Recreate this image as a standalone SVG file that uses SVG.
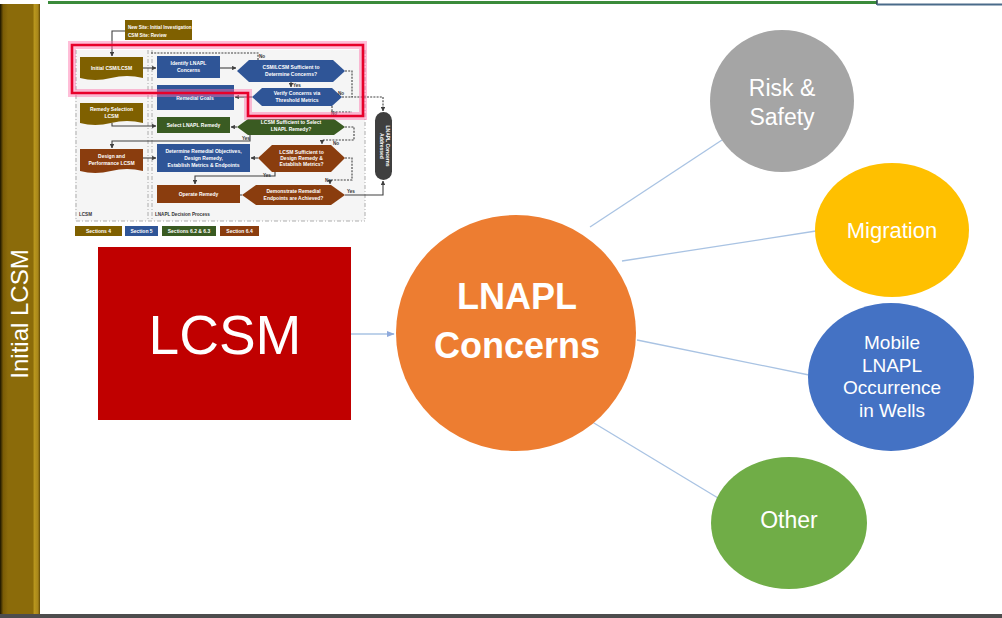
<svg xmlns="http://www.w3.org/2000/svg" width="1002" height="618" viewBox="0 0 1002 618">
<style>
.ft{font-family:"Liberation Sans",Arial,sans-serif;font-weight:bold;fill:#fff;text-anchor:middle;font-size:5px}
.ftl{font-family:"Liberation Sans",Arial,sans-serif;font-weight:bold;fill:#fff;font-size:4.6px}
.lbl{font-family:"Liberation Sans",Arial,sans-serif;font-weight:bold;fill:#333;font-size:4.6px}
.big{font-family:"Liberation Sans",Arial,sans-serif;fill:#fff;text-anchor:middle}
.gold{fill:#7f6000}.blue{fill:#2f5597}.green{fill:#3a5b22}.brown{fill:#8a3d0e}
.fl{fill:none;stroke:#404040;stroke-width:1.1}
.fd{fill:none;stroke:#404040;stroke-width:1.1;stroke-dasharray:2 1.2}
.lane{fill:none;stroke:#9a9a9a;stroke-width:0.8;stroke-dasharray:4 2 1 2}
.conn{fill:none;stroke:#a9c3e3;stroke-width:1.3}
</style>
<defs>
<linearGradient id="bar" x1="0" y1="0" x2="1" y2="0">
<stop offset="0" stop-color="#1a1400"/>
<stop offset="0.08" stop-color="#7a5c06"/>
<stop offset="0.2" stop-color="#8b6b0a"/>
<stop offset="0.82" stop-color="#8b6b0a"/>
<stop offset="0.86" stop-color="#b8961e"/>
<stop offset="0.95" stop-color="#a8861a"/>
<stop offset="1" stop-color="#5e4605"/>
</linearGradient>
<marker id="ah" viewBox="0 0 10 10" refX="9" refY="5" markerWidth="4" markerHeight="4" orient="auto"><path d="M0,0 L10,5 L0,10 z" fill="#404040"/></marker>
<marker id="ab" viewBox="0 0 10 10" refX="9" refY="5" markerWidth="6" markerHeight="6" orient="auto"><path d="M0,1 L10,5 L0,9 z" fill="#8faadc"/></marker>
</defs>
<rect width="1002" height="618" fill="#fff"/>
<!-- frame -->
<g id="frame">
<rect x="0" y="4" width="40" height="611" fill="url(#bar)"/>
<line x1="48" y1="2.5" x2="877" y2="2.5" stroke="#3b8b3b" stroke-width="3"/>
<line x1="877" y1="0" x2="877" y2="5" stroke="#2b3f55" stroke-width="1.5"/>
<line x1="877" y1="4.5" x2="1002" y2="4.5" stroke="#4a6b8a" stroke-width="2"/>
<rect x="0" y="614" width="1002" height="4" fill="#4d4d4d"/>
<text class="big" transform="translate(28,314) rotate(-90)" font-size="24">Initial LCSM</text>
</g>
<!-- thumbnail flowchart -->
<g id="thumbnail">
<rect x="75" y="50" width="290" height="171" fill="#f5f5f5"/>
<line class="lane" x1="76" y1="50" x2="76" y2="221"/>
<line class="lane" x1="148" y1="50" x2="148" y2="221"/>
<line class="lane" x1="152" y1="50" x2="152" y2="221"/>
<line class="lane" x1="365" y1="50" x2="365" y2="221"/>
<line class="lane" x1="76" y1="221" x2="365" y2="221"/>
<g id="fc-top"><rect x="125" y="20" width="67" height="20" class="gold"/>
<text class="ftl" x="128" y="29">New Site:  Initial Investigation</text><text class="ftl" x="128" y="37">CSM Site:  Review</text></g>
<g id="fc-initial"><path d="M80,57 H143 V78 Q127,74 111,78 T80,78 Z" class="gold"/><text class="ft" x="111.5" y="70">Initial CSM/LCSM</text></g>
<g id="fc-remsel"><path d="M80,103 H143 V123 Q127,119 111,123 T80,123 Z" class="gold"/><text class="ft" x="111.5" y="111">Remedy Selection</text><text class="ft" x="111.5" y="118">LCSM</text></g>
<g id="fc-design"><path d="M80,149 H143 V171 Q127,167 111,171 T80,171 Z" class="brown"/><text class="ft" x="111.5" y="158">Design and</text><text class="ft" x="111.5" y="165">Performance LCSM</text></g>
<g id="fc-identify"><rect x="157" y="56" width="63" height="22" class="blue"/><text class="ft" x="188.5" y="65">Identify LNAPL</text><text class="ft" x="188.5" y="72">Concerns</text></g>
<g id="fc-goals"><rect x="157" y="85" width="77" height="25" class="blue"/><text class="ft" x="195" y="100">Remedial Goals</text></g>
<g id="fc-select"><rect x="157" y="117" width="73" height="16" class="green"/><text class="ft" x="193.5" y="127">Select LNAPL Remedy</text></g>
<g id="fc-determine"><rect x="157" y="144" width="93" height="28" class="blue"/><text class="ft" x="203.5" y="153">Determine Remedial Objectives,</text><text class="ft" x="203.5" y="160">Design Remedy,</text><text class="ft" x="203.5" y="167">Establish Metrics &amp; Endpoints</text></g>
<g id="fc-operate"><rect x="157" y="185" width="83" height="18" class="brown"/><text class="ft" x="198.5" y="196">Operate Remedy</text></g>
<g id="fc-q1"><polygon points="237,71 249,60 333,60 345,71 333,82 249,82" class="blue"/><text class="ft" x="291" y="69">CSM/LCSM Sufficient to</text><text class="ft" x="291" y="76">Determine Concerns?</text></g>
<g id="fc-verify"><polygon points="252,97 262,88 332,88 342,97 332,106 262,106" class="blue"/><text class="ft" x="297" y="95">Verify Concerns via</text><text class="ft" x="297" y="102">Threshold Metrics</text></g>
<g id="fc-q2"><polygon points="237,127 248,119 334,119 345,127 334,135 248,135" class="green"/><text class="ft" x="291" y="124">LCSM Sufficient to Select</text><text class="ft" x="291" y="131">LNAPL Remedy?</text></g>
<g id="fc-q3"><polygon points="258,158 272,145 331,145 345,158 331,172 272,172" class="brown"/><text class="ft" x="301.5" y="154">LCSM Sufficient to</text><text class="ft" x="301.5" y="160">Design Remedy &amp;</text><text class="ft" x="301.5" y="166">Establish Metrics?</text></g>
<g id="fc-q4"><polygon points="242,195 256,185 331,185 345,195 331,205 256,205" class="brown"/><text class="ft" x="293.5" y="193">Demonstrate Remedial</text><text class="ft" x="293.5" y="200">Endpoints are Achieved?</text></g>
<g id="fc-done"><rect x="375" y="112" width="17" height="68" rx="8.5" fill="#3f3f3f"/><text class="ft" transform="translate(385.5,146) rotate(90)">LNAPL Concerns</text><text class="ft" transform="translate(379.5,146) rotate(90)">Addressed</text></g>
<g id="fc-edges">
<path class="fl" d="M125,31 H112 V56" marker-end="url(#ah)"/>
<path class="fl" d="M143,68 H156" marker-end="url(#ah)"/>
<path class="fl" d="M220,68 H236" marker-end="url(#ah)"/>
<path class="fd" d="M258,60 V53 H150"/>
<path class="fl" d="M291,82 V87" marker-end="url(#ah)"/>
<path class="fl" d="M252,97 H235" marker-end="url(#ah)"/>
<path class="fd" d="M345,71 H352 V97 H383 V111" marker-end="url(#ah)"/>
<path class="fd" d="M342,97 H352"/>
<path class="fd" d="M332,106 V112 H352"/>
<path class="fl" d="M112,123 V126 H156" marker-end="url(#ah)"/>
<path class="fl" d="M237,127 H231" marker-end="url(#ah)"/>
<path class="fl" d="M250,135 V141 H112 V148" marker-end="url(#ah)"/>
<path class="fl" d="M143,158 H156" marker-end="url(#ah)"/>
<path class="fd" d="M345,127 H354 V140 H322 V144" marker-end="url(#ah)"/>
<path class="fl" d="M258,158 H251" marker-end="url(#ah)"/>
<path class="fl" d="M275,172 V176 H195 V184" marker-end="url(#ah)"/>
<path class="fd" d="M345,158 H352 V180 H330 V184" marker-end="url(#ah)"/>
<path class="fl" d="M240,195 H242"/>
<path class="fl" d="M345,195 H383 V181" marker-end="url(#ah)"/>
</g>
<g id="fc-labels">
<text class="lbl" x="259" y="58">No</text>
<text class="lbl" x="293" y="87">Yes</text>
<text class="lbl" x="338" y="95">No</text>
<text class="lbl" x="331" y="115">No</text>
<text class="lbl" x="242" y="140">Yes</text>
<text class="lbl" x="333" y="145">No</text>
<text class="lbl" x="263" y="177">Yes</text>
<text class="lbl" x="325" y="182">No</text>
<text class="lbl" x="347" y="193">Yes</text>
<text class="lbl" x="79" y="216" font-size="5">LCSM</text>
<text class="lbl" x="155" y="216" font-size="6">LNAPL Decision Process</text>
</g>
<g id="fc-legend">
<rect x="75" y="226" width="47" height="10" class="gold"/><text class="ft" x="98.5" y="233">Sections 4</text>
<rect x="125" y="226" width="33" height="10" class="blue"/><text class="ft" x="141.5" y="233">Section 5</text>
<rect x="162" y="226" width="54" height="10" class="green"/><text class="ft" x="189" y="233">Sections 6.2 &amp; 6.3</text>
<rect x="220" y="226" width="39" height="10" class="brown"/><text class="ft" x="239.5" y="233">Section 6.4</text>
</g>
<g id="highlight">
<polygon points="72,45 363,45 363,116 248,116 248,93 72,93" fill="none" stroke="#ff6fa8" stroke-opacity="0.45" stroke-width="8"/>
<polygon points="72,45 363,45 363,116 248,116 248,93 72,93" fill="none" stroke="#e8002a" stroke-width="2.6"/>
</g>
</g>
<!-- connectors -->
<g id="connectors">
<line class="conn" x1="351" y1="334" x2="394" y2="334" stroke="#8faadc" marker-end="url(#ab)"/>
<line class="conn" x1="590" y1="227" x2="722" y2="140"/>
<line class="conn" x1="622" y1="261" x2="816" y2="231"/>
<line class="conn" x1="637" y1="340" x2="809" y2="375"/>
<line class="conn" x1="584" y1="417" x2="718" y2="498"/>
</g>
<g id="lcsm">
<rect x="98" y="247" width="253" height="173" fill="#c00000"/>
<text class="big" x="225" y="354" font-size="55">LCSM</text>
</g>
<g id="concerns">
<ellipse cx="516" cy="333" rx="120" ry="118" fill="#ed7d31"/>
<text class="big" x="517" y="309" font-size="36" font-weight="bold">LNAPL</text>
<text class="big" x="517" y="358" font-size="36" font-weight="bold">Concerns</text>
</g>
<g id="risk">
<ellipse cx="782" cy="101" rx="72" ry="71" fill="#a5a5a5"/>
<text class="big" x="782" y="96" font-size="23">Risk &amp;</text>
<text class="big" x="782" y="125" font-size="23">Safety</text>
</g>
<g id="migration">
<ellipse cx="892" cy="230" rx="77" ry="67" fill="#ffc000"/>
<text class="big" x="892" y="238" font-size="22">Migration</text>
</g>
<g id="mobile">
<ellipse cx="891" cy="377" rx="83" ry="74" fill="#4472c4"/>
<text class="big" x="892" y="349" font-size="19">Mobile</text>
<text class="big" x="892" y="372" font-size="19">LNAPL</text>
<text class="big" x="892" y="394" font-size="19">Occurrence</text>
<text class="big" x="892" y="417" font-size="19">in Wells</text>
</g>
<g id="other">
<ellipse cx="789" cy="523" rx="78" ry="66" fill="#70ad47"/>
<text class="big" x="789" y="528" font-size="23">Other</text>
</g>
</svg>
